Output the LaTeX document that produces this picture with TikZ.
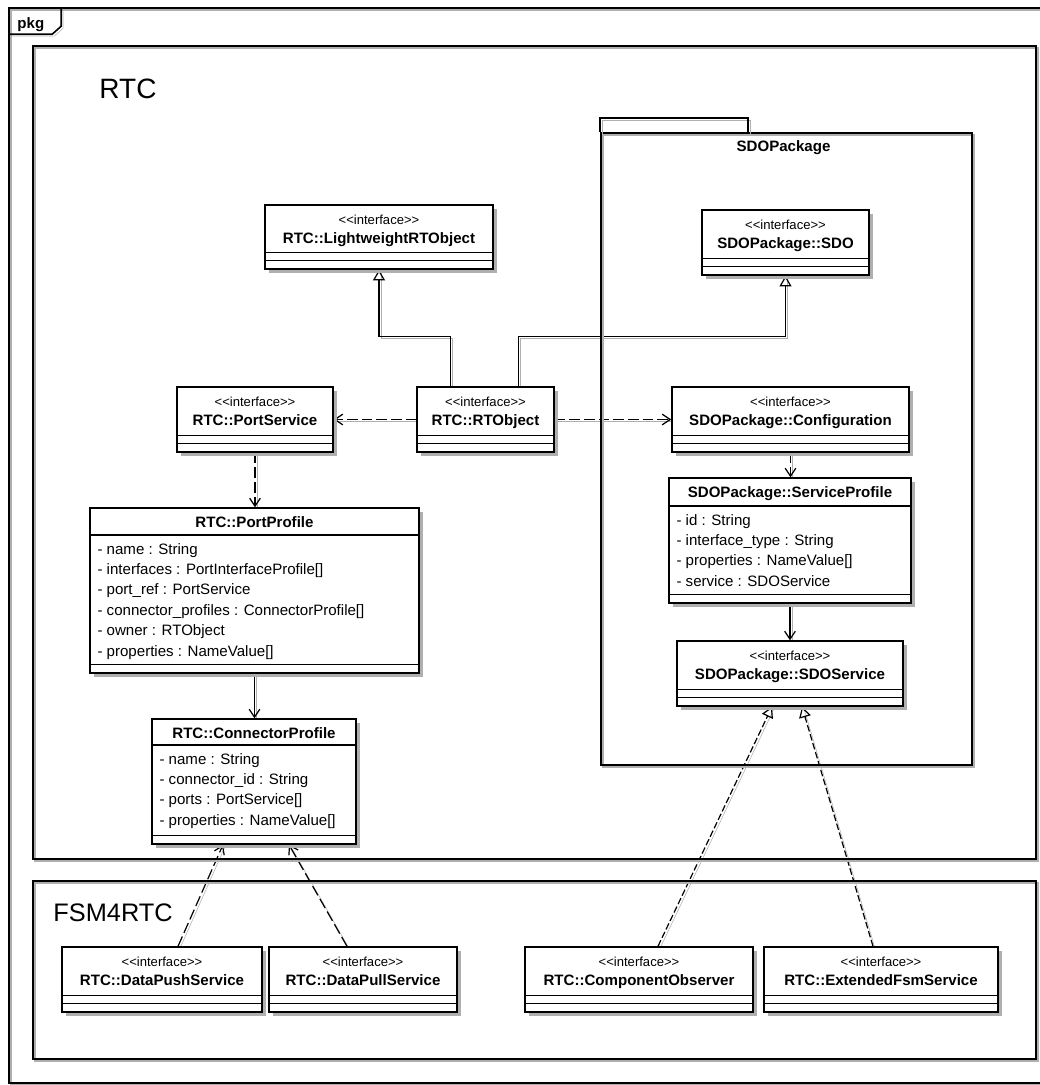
\documentclass[tikz,border=0pt]{standalone}
\usepackage{fontspec}
\setmainfont[Ligatures=TeXOff]{Liberation Sans}
\usetikzlibrary{arrows.meta, positioning, fit, calc, shadows, backgrounds}
\definecolor{shadowgray}{RGB}{175,175,175}
\tikzset{
    shd/.style={preaction={draw=shadowgray, -, transform canvas={shift={(1.5pt,-1.5pt)}}}},
    cls/.style={draw, line width=1.1pt, fill=white, inner sep=0pt,
        drop shadow={shadow xshift=3pt, shadow yshift=-3pt, fill=shadowgray, opacity=1}},
    compline/.style={line width=1.1pt},
    stereo/.style={anchor=base, inner sep=0pt, font=\fontsize{9.8}{11}\selectfont},
    clsname/.style={anchor=base, inner sep=0pt, font=\fontsize{11.3}{13}\selectfont\bfseries},
    attrs/.style={anchor=north west, align=left, inner sep=0pt, font=\fontsize{11.3}{15.3}\selectfont},
    pkgbox/.style={draw, line width=1.2pt, inner sep=0pt, shd},
    pkgline/.style={line width=1.2pt, shd},
    dep/.style={line width=0.9pt, dash pattern=on 8pt off 3pt, -{Straight Barb[length=6pt, width=8pt]}, shd},
    assoc/.style={line width=0.9pt, -{Straight Barb[length=6pt, width=8pt]}, shd},
    gen/.style={line width=0.9pt, -{Triangle[open, length=8pt, width=9pt]}, shd},
    real/.style={gen, dash pattern=on 5pt off 2pt}
}
% interface box: name, x1, y1, x2, y2, title
\newcommand{\ifacebox}[6]{%
    \node[cls, fit={(#2,#3) (#4,#5)}] (#1) {};
    \draw[compline] ($(#1.south west)+(0,-17)$) -- ($(#1.south east)+(0,-17)$);
    \draw[compline] ($(#1.south west)+(0,-9)$) -- ($(#1.south east)+(0,-9)$);
    \node[stereo] (#1-st) at ($(#1.north)+(0,20)$) {<<interface>>};
    \node[clsname] (#1-name) at ($(#1.north)+(0,39)$) {#6};
}
% class box: name, x1, y1, x2, y2, header bottom, title, attributes
\newcommand{\classbox}[8]{%
    \node[cls, fit={(#2,#3) (#4,#5)}] (#1) {};
    \draw[compline] (#1.west |- 0,#6) -- (#1.east |- 0,#6);
    \draw[compline] ($(#1.south west)+(0,-9)$) -- ($(#1.south east)+(0,-9)$);
    \node[clsname] (#1-name) at ($(#1.north)+(0,20)$) {#7};
    \node[attrs] (#1-attrs) at ($(#1.west |- 0,#6)+(8,8)$) {#8};
}

\begin{document}
\begin{tikzpicture}[x=0.75pt, y=-0.75pt]
    \useasboundingbox (0,0) rectangle (1039,1085);

    % frame and packages
    \node[pkgbox, fit={(9,8) (1052,1083)}] (frame) {};
    \draw[pkgline] ($(frame.north west)+(0,27)$) -- ++(44,0) -- ++(9,-8) -- ++(0,-19);
    \node[anchor=base west, inner sep=0pt, font=\fontsize{11.3}{13}\selectfont\bfseries] (frame-label) at ($(frame.north west)+(9,21)$) {pkg};

    \node[pkgbox, fit={(33,46) (1036,859)}] (rtc) {};
    \node[anchor=base west, inner sep=0pt, font=\fontsize{21}{25}\selectfont] (rtc-label) at ($(rtc.north west)+(67,53)$) {RTC};

    \node[pkgbox, fit={(601,133) (972,765)}] (sdopkg) {};
    \draw[pkgline] (sdopkg.north west) -- ++(0,-14) -- ++(148,0) -- ++(0,14);
    \node[clsname] (sdopkg-label) at ($(sdopkg.north)+(-3,19)$) {SDOPackage};

    \node[pkgbox, fit={(33,881) (1036,1059)}] (fsm) {};
    \node[anchor=base west, inner sep=0pt, font=\fontsize{19}{23}\selectfont] (fsm-label) at ($(fsm.north west)+(21,41)$) {FSM4RTC};

    % classes
    \ifacebox{lw}{265}{205}{493}{269}{RTC::LightweightRTObject}
    \ifacebox{sdo}{702}{210}{869}{275}{SDOPackage::SDO}
    \ifacebox{ps}{177}{387}{333}{452}{RTC::PortService}
    \ifacebox{rto}{417}{387}{554}{452}{RTC::RTObject}
    \ifacebox{cfg}{672}{387}{909}{452}{SDOPackage::Configuration}
    \classbox{pp}{90}{508}{419}{673}{535}{RTC::PortProfile}{- name : String\\- interfaces : PortInterfaceProfile[]\\- port\_ref : PortService\\- connector\_profiles : ConnectorProfile[]\\- owner : RTObject\\- properties : NameValue[]}
    \classbox{cp}{152}{719}{356}{844}{745}{RTC::ConnectorProfile}{- name : String\\- connector\_id : String\\- ports : PortService[]\\- properties : NameValue[]}
    \classbox{sp}{669}{478}{911}{603}{506}{SDOPackage::ServiceProfile}{- id : String\\- interface\_type : String\\- properties : NameValue[]\\- service : SDOService}
    \ifacebox{sds}{677}{641}{903}{706}{SDOPackage::SDOService}
    \ifacebox{push}{62}{947}{262}{1012}{RTC::DataPushService}
    \ifacebox{pull}{269}{947}{457}{1012}{RTC::DataPullService}
    \ifacebox{obs}{525}{947}{753}{1012}{RTC::ComponentObserver}
    \ifacebox{ext}{764}{947}{998}{1012}{RTC::ExtendedFsmService}

    % relations
    \begin{scope}[on background layer]
        \draw[gen] ($(rto.north)+(-35,0)$) |- ($(lw.south)+(0,67)$) -- (lw.south);
        \draw[gen] ($(rto.north)+(33,0)$) |- ($(sdo.south)+(0,61)$) -- (sdo.south);
        \draw[dep] (rto.west) -- (ps.east);
        \draw[dep] (rto.east) -- (cfg.west);
        \draw[dep] (ps.south) -- (ps.south |- pp.north);
        \draw[assoc] (pp.south) -- (pp.south |- cp.north);
        \draw[dep] (cfg.south) -- (cfg.south |- sp.north);
        \draw[assoc] (sp.south) -- (sp.south |- sds.north);
        \draw[dep] ($(push.north)+(16,0)$) -- ($(cp.south)+(-31,0)$);
        \draw[dep] ($(pull.north)+(-16,0)$) -- ($(cp.south)+(35,0)$);
        \draw[real] ($(obs.north)+(19,0)$) -- ($(sds.south)+(-18,0)$);
        \draw[real] ($(ext.north)+(-8,0)$) -- ($(sds.south)+(12,0)$);
    \end{scope}
\end{tikzpicture}
\end{document}
